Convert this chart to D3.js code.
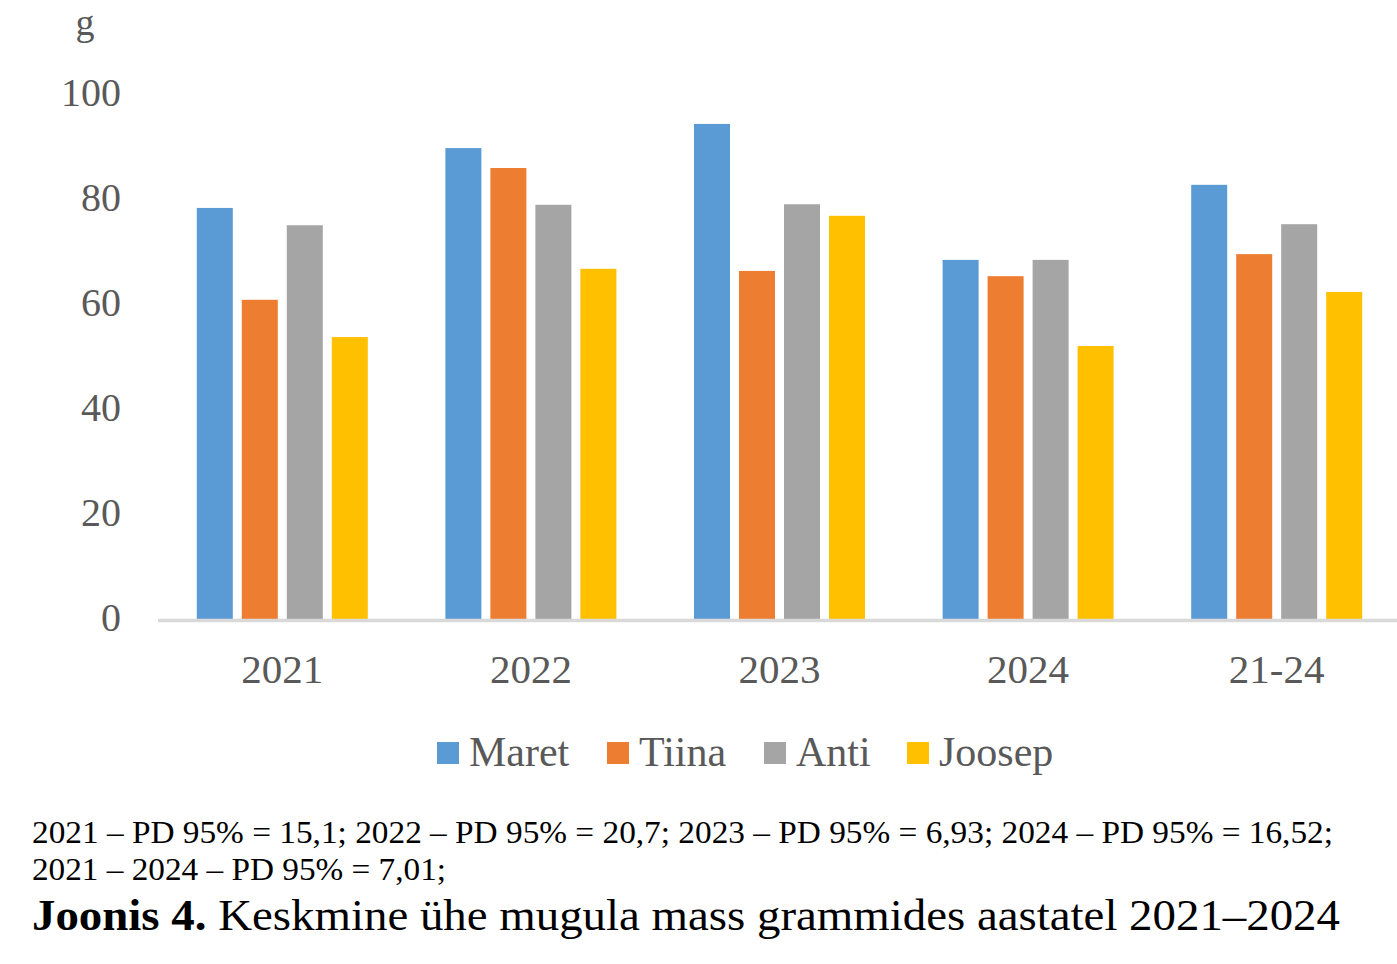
<!DOCTYPE html>
<html><head><meta charset="utf-8">
<script src="https://cdn.jsdelivr.net/npm/d3@7"></script>
<style>
html,body{margin:0;padding:0;background:#fff;}
svg{display:block;}
text{font-family:"Liberation Serif","Times New Roman",serif;}
</style></head>
<body>
<svg id="chart" width="1397" height="964"></svg>
<script>
const categories = ["2021","2022","2023","2024","21-24"];
const seriesNames = ["Maret","Tiina","Anti","Joosep"];
const maret  = [78.3, 89.7, 94.3, 68.4, 82.7];
const tiina  = [60.8, 85.9, 66.3, 65.3, 69.5];
const anti   = [75.0, 78.9, 79.0, 68.4, 75.2];
const joosep = [53.7, 66.7, 76.8, 52.0, 62.3];
const yTicks = [0,20,40,60,80,100];
const colors = ["#5b9bd5","#ed7d31","#a5a5a5","#ffc000"];
const footLines = ["2021 – PD 95% = 15,1; 2022 – PD 95% = 20,7; 2023 – PD 95% = 6,93; 2024 – PD 95% = 16,52;",
                   "2021 – 2024 – PD 95% = 7,01;"];

const values = [maret, tiina, anti, joosep];
const svg = d3.select("#chart");
const grey = "#595959";

const y = d3.scaleLinear().domain([0,100]).range([619,94]);
const x0 = d3.scaleBand().domain(categories).range([158,1401]);
const x1 = d3.scaleBand().domain(seriesNames).range([0,180]).paddingInner(0.2).paddingOuter(0.1);

// bars
categories.forEach((c,ci)=>{
  const g = svg.append("g").attr("transform",`translate(${x0(c)+x0.bandwidth()/2-90},0)`);
  seriesNames.forEach((s,si)=>{
    const v = values[si][ci];
    g.append("rect").attr("x",x1(s)).attr("width",x1.bandwidth())
      .attr("y",y(v)).attr("height",y(0)-y(v)).attr("fill",colors[si]);
  });
});

// baseline
svg.append("line").attr("x1",158).attr("x2",1397).attr("y1",y(0)+1.5).attr("y2",y(0)+1.5)
  .attr("stroke","#d9d9d9").attr("stroke-width",3.5);

// y tick labels
svg.selectAll(".yt").data(yTicks).enter().append("text")
  .attr("x",121).attr("y",d=>y(d)).attr("dy","0.3em").attr("text-anchor","end")
  .attr("font-size",40).attr("fill",grey).text(d=>d);

// unit
svg.append("text").attr("x",85).attr("y",35).attr("text-anchor","middle")
  .attr("font-size",38).attr("fill",grey).text("g");

// category labels
svg.selectAll(".xt").data(categories).enter().append("text")
  .attr("x",d=>x0(d)+x0.bandwidth()/2).attr("y",683).attr("text-anchor","middle")
  .attr("font-size",41).attr("fill",grey).text(d=>d);

// legend
const legX = [437,607,764,907];
seriesNames.forEach((s,i)=>{
  svg.append("rect").attr("x",legX[i]).attr("y",742).attr("width",22).attr("height",22).attr("fill",colors[i]);
  svg.append("text").attr("x",legX[i]+32).attr("y",766).attr("font-size",42).attr("fill",grey).text(s);
});

// footnotes
svg.append("text").attr("x",32).attr("y",843).attr("font-size",32).attr("fill","#000")
  .attr("textLength",1301).attr("lengthAdjust","spacingAndGlyphs").text(footLines[0]);
svg.append("text").attr("x",32).attr("y",880).attr("font-size",32).attr("fill","#000")
  .attr("textLength",414).attr("lengthAdjust","spacingAndGlyphs").text(footLines[1]);

// caption
const cap = svg.append("text").attr("x",32).attr("y",930).attr("font-size",44).attr("fill","#000")
  .attr("textLength",1308).attr("lengthAdjust","spacingAndGlyphs");
cap.append("tspan").attr("font-weight","bold").text("Joonis 4.");
cap.append("tspan").text(" Keskmine ühe mugula mass grammides aastatel 2021–2024");
</script>
</body></html>
